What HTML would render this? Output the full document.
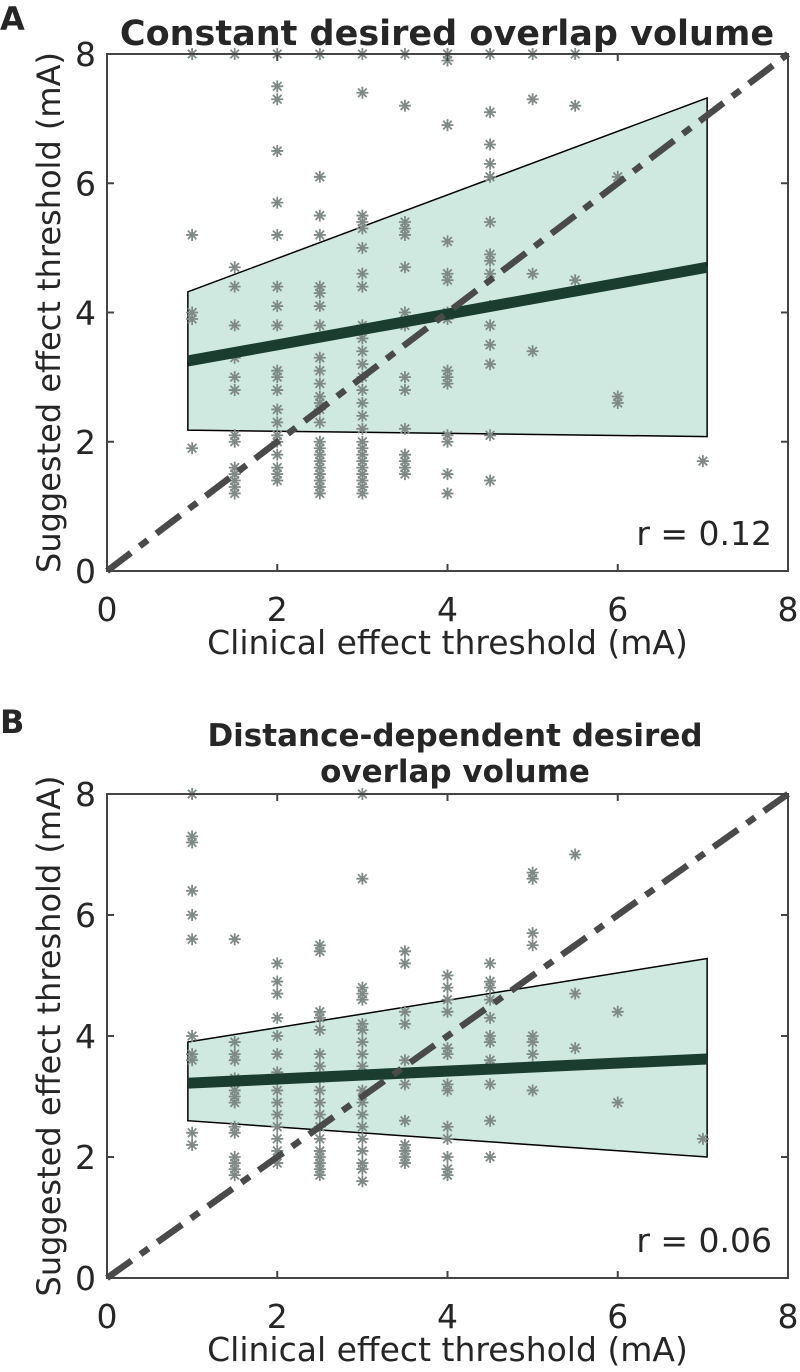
<!DOCTYPE html>
<html><head><meta charset="utf-8"><style>
html,body{margin:0;padding:0;background:#fff}
svg text{font-family:"DejaVu Sans","Liberation Sans",sans-serif;fill:#262626}
</style></head><body>
<svg id="fig" width="800" height="1367" viewBox="0 0 800 1367" xmlns="http://www.w3.org/2000/svg"></svg>
<script>
const ticks=[0,2,4,6,8];
// Panel A data
const aCols=[1,1.5,2,2.5,3,3.5,4,4.5,5,5.5,6,7];
const aVals=[
[8,5.2,4.0,3.9,1.9],
[8,4.7,4.4,3.8,3.3,3.0,2.8,2.1,2.0,1.6,1.5,1.4,1.3,1.2],
[8,7.5,7.3,6.5,5.7,5.2,4.4,4.1,3.8,3.1,3.0,2.8,2.5,2.3,2.1,2.0,1.8,1.6,1.5,1.4],
[8,6.1,5.5,5.2,4.4,4.3,4.1,3.8,3.3,3.1,2.9,2.7,2.6,2.5,2.3,2.0,1.9,1.8,1.7,1.6,1.5,1.4,1.3,1.2],
[8,7.4,5.5,5.4,5.3,5.0,4.6,4.4,3.8,3.6,3.4,3.2,3.0,2.8,2.6,2.4,2.2,2.0,1.9,1.8,1.7,1.6,1.5,1.4,1.3,1.2],
[8,7.2,5.4,5.3,5.2,4.7,4.0,3.8,3.0,2.8,2.2,1.8,1.7,1.6,1.5],
[8,7.9,6.9,5.1,4.6,4.5,4.0,3.9,3.1,3.0,2.9,2.1,2.0,1.5,1.2],
[8,7.1,6.6,6.3,6.1,5.4,4.9,4.8,4.6,4.1,3.8,3.5,3.2,2.1,1.4],
[8,7.3,4.6,3.4],
[8,7.2,4.5],
[6.1,2.7,2.6],
[1.7]];
const aFitX=[0.95,7.05];
const aFit=[3.25,4.7];
const aUpper=[4.32,7.32];
const aLower=[2.18,2.08];
// Panel B data
const bCols=[1,1.5,2,2.5,3,3.5,4,4.5,5,5.5,6,7];
const bVals=[
[8.0,7.3,7.2,6.4,6.0,5.6,4.0,3.7,3.6,2.4,2.2],
[5.6,3.9,3.7,3.6,3.3,3.1,3.0,2.9,2.5,2.4,2.0,1.9,1.8,1.7],
[5.2,4.9,4.7,4.3,4.0,3.7,3.4,3.1,2.9,2.7,2.5,2.3,2.1,1.9],
[5.5,5.4,4.4,4.3,4.1,3.7,3.5,3.3,3.1,2.9,2.7,2.5,2.3,2.1,2.0,1.9,1.8,1.7],
[8.0,6.6,4.8,4.7,4.6,4.2,4.1,3.9,3.7,3.5,3.1,2.9,2.7,2.5,2.3,2.1,1.9,1.8,1.6],
[5.4,5.2,4.4,4.2,3.6,3.2,2.6,2.2,2.1,2.0,1.9],
[5.0,4.8,4.6,4.4,3.8,3.7,3.2,3.1,2.5,2.3,2.0,1.8,1.7],
[5.2,4.9,4.8,4.6,4.3,4.0,3.9,3.6,3.5,3.2,2.6,2.0],
[6.7,6.6,5.7,5.5,4.0,3.9,3.7,3.5,3.1],
[7.0,4.7,3.8],
[4.4,2.9],
[2.3]];
const bFitX=[0.95,7.05];
const bFit=[3.22,3.62];
const bUpper=[3.9,5.28];
const bLower=[2.6,2.0];

const NS="http://www.w3.org/2000/svg";
const svg=document.getElementById('fig');
function mk(tag,attrs,parent){const e=document.createElementNS(NS,tag);for(const k in attrs)e.setAttribute(k,attrs[k]);(parent||svg).appendChild(e);return e;}

function panel(cfg){
  const g=mk('g',{});
  
  
  const L=107,R=788,T=cfg.top,B=cfg.bottom;
  const sx=v=>L+(R-L)*v/8, sy=v=>B-(B-T)*v/8;
  const band=mk('polygon',{points:`${sx(cfg.fx[0])},${sy(cfg.up[0])} ${sx(cfg.fx[1])},${sy(cfg.up[1])} ${sx(cfg.fx[1])},${sy(cfg.lo[1])} ${sx(cfg.fx[0])},${sy(cfg.lo[0])}`,fill:'#cfe9e0',stroke:'#000','stroke-width':1.5},g);
  
  
  cfg.cols.forEach((c,i)=>{cfg.vals[i].forEach(v=>{
    const x=sx(c),y=sy(v),s=6,d=4.3;
    const p=mk('path',{d:`M${x-s},${y}H${x+s}M${x},${y-s}V${y+s}M${x-d},${y-d}L${x+d},${y+d}M${x-d},${y+d}L${x+d},${y-d}`,stroke:'#7f8a86','stroke-width':1.8,fill:'none'},g);
    
    
  });});
  const fl=mk('line',{x1:sx(cfg.fx[0]),y1:sy(cfg.fit[0]),x2:sx(cfg.fx[1]),y2:sy(cfg.fit[1]),stroke:'#1a3d2f','stroke-width':11},g);
  
  
  const id=mk('line',{x1:sx(0),y1:sy(0),x2:sx(8),y2:sy(8),stroke:'#4a4a4a','stroke-width':6.5,'stroke-dasharray':'30 11 10 11'},g);
  
  
  const box=mk('rect',{x:L,y:T,width:R-L,height:B-T,fill:'none',stroke:'#444','stroke-width':2},g);
  
  
  ticks.forEach(t=>{
    mk('line',{x1:sx(t),y1:B,x2:sx(t),y2:B-7,stroke:'#444','stroke-width':2},g);
    mk('line',{x1:sx(t),y1:T,x2:sx(t),y2:T+7,stroke:'#444','stroke-width':2},g);
    mk('line',{x1:L,y1:sy(t),x2:L+7,y2:sy(t),stroke:'#444','stroke-width':2},g);
    mk('line',{x1:R,y1:sy(t),x2:R-7,y2:sy(t),stroke:'#444','stroke-width':2},g);
    const xt=mk('text',{x:sx(t),y:B+50,'font-size':33,'text-anchor':'middle'},g);xt.textContent=t;
    
    
    const yt=mk('text',{x:L-11,y:sy(t)+12,'font-size':33,'text-anchor':'end'},g);yt.textContent=t;
    
    
  });
  const xl=mk('text',{x:(L+R)/2,y:B+83,'font-size':33,'text-anchor':'middle'},g);xl.textContent='Clinical effect threshold (mA)';
  
  
  const yl=mk('text',{x:0,y:0,'font-size':32,'text-anchor':'middle',transform:`translate(60,${(T+B)/2}) rotate(-90)`},g);yl.textContent='Suggested effect threshold (mA)';
  
  
  const r=mk('text',{x:772,y:B-26,'font-size':33,'text-anchor':'end'},g);r.textContent=cfg.r;
  
  
  cfg.title.forEach((t,i)=>{const tt=mk('text',{x:cfg.titleX,y:cfg.titleY+i*cfg.titleGap,'font-size':cfg.titleSize,'font-weight':'bold','text-anchor':'middle'},g);tt.textContent=t;
    
    });
  const pl=mk('text',{x:0,y:cfg.labelY,'font-size':32,'font-weight':'bold'},g);pl.textContent=cfg.label;
  
  
}
panel({name:'panel-a',top:54,bottom:571,cols:aCols,vals:aVals,fx:aFitX,fit:aFit,up:aUpper,lo:aLower,r:'r = 0.12',title:['Constant desired overlap volume'],titleX:447,titleY:45,titleGap:36,titleSize:35,label:'A',labelY:30});
panel({name:'panel-b',top:794,bottom:1278,cols:bCols,vals:bVals,fx:bFitX,fit:bFit,up:bUpper,lo:bLower,r:'r = 0.06',title:['Distance-dependent desired','overlap volume'],titleX:455,titleY:746,titleGap:36,titleSize:31,label:'B',labelY:733});
</script>
</body></html>
